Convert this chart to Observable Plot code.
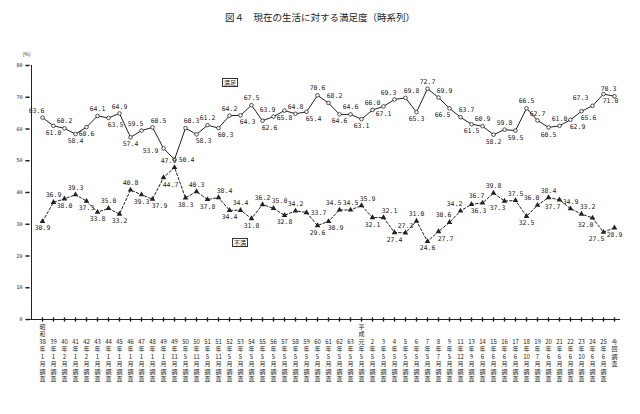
<!DOCTYPE html>
<html><head><meta charset="utf-8">
<script src="https://cdn.jsdelivr.net/npm/d3@7"></script>
<script src="https://cdn.jsdelivr.net/npm/@observablehq/plot@0.6"></script>
<style>
body{margin:0;background:#fff;}
#wrap{position:relative;width:640px;height:414px;font-family:'Noto Sans CJK JP',sans-serif;}
.lg{position:absolute;font-size:6px;line-height:7px;border:1px solid #333;padding:0 1px;background:#fff;color:#222;}
</style></head>
<body><div id="wrap"></div>
<script>
const title = "図４　現在の生活に対する満足度（時系列）";
const years = ["38","39","40","41","42","43","44","45","46","47","48","49","49","50","50","51","51","52","53","54","55","56","57","58","59","60","61","62","63",
  "元","2","3","4","5","6","7","8","9","11","13","14","15","16","17","18","19","20","21","22","23","24","25","今回"];
const months = ["1","1","2","1","2","1","1","1","1","1","1","1","11","5","11","5","11","5","5","5","5","5","5","5","5","5","5","5","5",
  "5","5","5","5","5","5","5","7","5","12","9","6","6","6","6","10","7","6","6","6","10","6","6",""];
const satisfied = [63.6,61.0,60.2,58.4,60.6,64.1,63.5,64.9,57.4,59.5,60.5,53.9,50.4,60.3,58.3,61.2,60.3,64.2,64.3,67.5,
  62.6,63.9,65.8,64.8,65.4,70.6,68.2,64.6,64.6,63.1,66.0,67.1,69.3,69.8,65.3,72.7,69.9,66.5,63.7,61.5,
  60.9,58.2,59.8,59.5,66.5,62.7,60.5,61.0,62.9,65.6,67.3,71.0,70.3];
const dissatisfied = [30.9,36.9,38.0,39.3,37.3,33.8,35.0,33.2,40.8,39.3,37.9,44.7,47.9,38.3,40.3,37.8,38.4,34.4,34.4,31.8,
  36.2,35.0,32.8,34.2,33.7,29.6,30.9,34.5,34.5,35.9,32.1,32.1,27.4,27.3,31.0,24.6,27.7,30.6,34.2,36.3,
  36.7,39.8,37.3,37.5,32.5,36.0,38.4,37.7,34.9,33.2,32.0,27.5,28.9];
const yTicks = [0,10,20,30,40,50,60,70,80];
const seriesNames = ["満足","不満"];

// label placement around each point (layout only): t=above, b=below, l/r=side, tl/tr/bl/br=diagonal
const satPlace = "tl b t b b t br t b tl tr l r tr br t br t br t br tl b t br t tr b t b t b tl tr b t tr bl tr b t b t b t t b t br br TL br tl".split(" ");
const disPlace = "b t b t b b t b t b br br tl b t b tr b t b t tr b t r b br tl t tr b tr b t t b br tl tl br tl t bl t b tl t bl t tr bl bl b".split(" ");
const offsets = {t:[0,-7], b:[0,7], tl:[-6,-7], tr:[6,-7], bl:[-7,7], br:[7,7], l:[-13,3], r:[12,0], TL:[-12,-8]};

const cats = years.map((y,i) => y === "今回" ? "今回調査" : `${y}年${months[i]}月`);
function axisRows(i){
  const y = years[i];
  if (y === "今回") return ["", "", "今", "回", "調", "査", "", ""];
  const era = i === 0 ? ["昭","和"] : (y === "元" ? ["平","成"] : ["",""]);
  return [...era, y, "年", months[i], "月", "調", "査"];
}
const sat = satisfied.map((v,i) => ({cat: cats[i], v, p: satPlace[i]}));
const dis = dissatisfied.map((v,i) => ({cat: cats[i], v, p: disPlace[i]}));
const all = sat.concat(dis);
const ink = "#222";
const numFont = "'DejaVu Sans Mono', monospace";

const labelMarks = Object.entries(offsets).map(([k,[dx,dy]]) =>
  Plot.text(all.filter(d => d.p === k), {x: "cat", y: "v", text: d => d.v.toFixed(1), dx, dy, fontSize: 6.5, fontFamily: numFont, fill: ink}));
const axisTextMarks = d3.range(8).map(r =>
  Plot.text(cats.map((c,i) => ({c, t: axisRows(i)[r]})).filter(d => d.t), {x: "c", text: "t", frameAnchor: "bottom", dy: 9 + 7.5*r, fontSize: 6, fill: ink}));

const chart = Plot.plot({
  width: 640, height: 414,
  marginTop: 65, marginBottom: 95, marginLeft: 27, marginRight: 20,
  style: {fontFamily: "'Noto Sans CJK JP', sans-serif", color: ink, background: "#fff"},
  x: {type: "point", domain: cats, padding: 0, insetLeft: 11, insetRight: 3, axis: null},
  y: {domain: [0, 80], ticks: yTicks, axis: null},
  marks: [
    Plot.ruleY([0], {stroke: ink, strokeWidth: 1}),
    Plot.ruleX([cats[0]], {dx: -11, stroke: ink, strokeWidth: 1}),
    Plot.axisY(yTicks, {tickSize: 0, tickPadding: 5, fontSize: 5, fontFamily: numFont, label: null}),
    Plot.vector(yTicks, {y: d => d, frameAnchor: "left", rotate: 90, length: 3, shape: "spike", r: 0, stroke: ink, fill: "none"}),
    Plot.vector(cats, {x: d => d, frameAnchor: "bottom", length: 3, shape: "spike", r: 0, stroke: ink, fill: "none"}),
    ...axisTextMarks,
    Plot.line(sat, {x: "cat", y: "v", stroke: ink, strokeWidth: 1}),
    Plot.line(dis, {x: "cat", y: "v", stroke: ink, strokeWidth: 1, strokeDasharray: "2.5,2"}),
    Plot.dot(sat, {x: "cat", y: "v", r: 1.8, symbol: "circle", fill: "#fff", stroke: ink, strokeWidth: 0.8}),
    Plot.dot(dis, {x: "cat", y: "v", r: 2.1, symbol: "triangle", fill: ink}),
    ...labelMarks,
    Plot.text([title], {frameAnchor: "top", dy: -51, dx: -4, fontSize: 9.5}),
    Plot.text(["(%)"], {frameAnchor: "top-left", dx: -5, dy: -13, fontSize: 5})
  ]
});
const wrap = document.getElementById("wrap");
wrap.appendChild(chart);
const lg1 = document.createElement("div"); lg1.className = "lg"; lg1.textContent = seriesNames[0];
lg1.style.left = "222px"; lg1.style.top = "78px";
const lg2 = document.createElement("div"); lg2.className = "lg"; lg2.textContent = seriesNames[1];
lg2.style.left = "232px"; lg2.style.top = "238px";
wrap.appendChild(lg1); wrap.appendChild(lg2);
</script></body></html>
